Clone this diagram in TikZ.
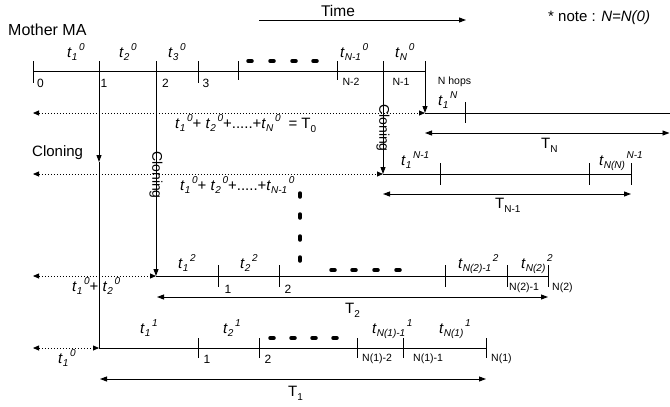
\documentclass[tikz,border=0pt]{standalone}
\usepackage{fontspec}
\setmainfont{Liberation Sans}
\usetikzlibrary{arrows.meta}
\newcommand\subfont{\fontsize{10}{10}\selectfont}
\newcommand\tl[2]{\textit{t}\raisebox{-3.8pt}{\subfont\itshape #1}\raisebox{7pt}{\subfont\itshape\,#2}}
\newcommand\Tsub[1]{T\raisebox{-4pt}{\subfont #1}}
\tikzset{
 rowline/.style={line width=0.9pt},
 dotline/.style={line width=0.8pt, dash pattern=on 1pt off 2pt, {Triangle[length=6pt,width=5pt]}-{Triangle[length=6pt,width=5pt]}},
 spanarrow/.style={line width=0.9pt, {Triangle[length=7pt,width=5pt]}-{Triangle[length=7pt,width=5pt]}},
 downarrow/.style={line width=0.9pt, -{Triangle[length=7pt,width=5pt]}},
 big/.style={font=\fontsize{15}{18}\selectfont, inner sep=0pt},
 tlab/.style={font=\fontsize{15}{17}\selectfont, inner sep=0pt, anchor=base west},
 num/.style={font=\fontsize{12}{14}\selectfont, inner sep=0pt},
 small/.style={font=\fontsize{10.5}{12}\selectfont, inner sep=0pt, anchor=west},
 blob/.style={line width=3.5pt, line cap=round},
 rot/.style={font=\fontsize{14}{16}\selectfont, inner sep=0pt, rotate=-90},
}
\begin{document}
\begin{tikzpicture}[x=1pt,y=-1pt]
\useasboundingbox (0,0) rectangle (670,407);

% header
\node[big, font=\fontsize{15.5}{18}\selectfont] (time) at (338,11) {Time};
\coordinate (timeA) at (259,20);
\coordinate (timeB) at (466,20);
\draw[downarrow] (timeA) -- (timeB);
\node[inner sep=0pt, anchor=west, font=\fontsize{15}{17}\selectfont] (note) at (548,18) {* note : \textit{N=N(0)}};
\node[big, anchor=west, font=\fontsize{16}{18}\selectfont] (mother) at (8,30) {Mother MA};

% main row
\coordinate (m0) at (33,71);
\coordinate (m7) at (425,71);
\draw[rowline] (m0) -- (m7);
\foreach \x/\b in {33/83,198/83,238/80,337/80,99/71,156/71,383/71,425/71}
  \draw[rowline] (\x,61) -- (\x,\b);
\foreach \x in {250,272,294,315}
  \draw[blob] (\x-2,61) -- (\x+2,61);
\node[num] (n0) at (40.5,83) {0};
\node[num] (n1) at (104,83) {1};
\node[num] (n2) at (165.5,83) {2};
\node[num] (n3) at (206,83) {3};
\node[small, anchor=center] (nN2) at (351,82) {N-2};
\node[small, anchor=center] (nN1) at (401,82) {N-1};
\node[small, anchor=center] (nhops) at (454.5,82) {N hops};
\node[tlab] (a1) at (67,57) {\tl{1}{0}};
\node[tlab] (a2) at (119,57) {\tl{2}{0}};
\node[tlab] (a3) at (168,57) {\tl{3}{0}};
\node[tlab] (aN1) at (340,57) {\tl{N-1}{0}};
\node[tlab] (aN) at (395,57) {\tl{N}{0}};

% vertical cloning lines
\coordinate (v1top) at (99,61);
\coordinate (v1mid) at (99,162);
\coordinate (r1s) at (99,348);
\draw[downarrow] (v1top) -- (v1mid);
\draw[rowline] (v1mid) -- (r1s);
\coordinate (v2top) at (156,61);
\coordinate (r2s) at (156,276);
\draw[downarrow] (v2top) -- (r2s);
\coordinate (v3top) at (383,61);
\coordinate (rN1s) at (383,174);
\draw[downarrow] (v3top) -- (rN1s);
\coordinate (v4top) at (425,61);
\coordinate (rNs) at (425,113);
\draw[downarrow] (v4top) -- (rNs);
\node[big, anchor=west] (clon1) at (32,153) {Cloning};
\node[rot] (clon2) at (156,175) {Cloning};
\node[rot] (clon3) at (383,128) {Cloning};

% dotted back-references
\coordinate (dN) at (33,113);
\coordinate (dN1) at (33,174);
\coordinate (d2) at (33,276);
\coordinate (d1) at (33,348);
\draw[dotline] (dN) -- (rNs);
\draw[dotline] (dN1) -- (rN1s);
\draw[dotline] (d2) -- (r2s);
\draw[dotline] (d1) -- (r1s);
\node[tlab] (sum0) at (175,128) {\tl{1}{0}+ \tl{2}{0}+.....+\tl{N}{0}\hspace{8pt}= \Tsub{0}};
\node[tlab] (sum1) at (180,190) {\tl{1}{0}+ \tl{2}{0}+.....+\tl{N-1}{0}};
\node[tlab] (sum2) at (72,291) {\tl{1}{0}+ \tl{2}{0}};
\node[tlab] (sum3) at (58,363) {\tl{1}{0}};
\foreach \y in {195,216,238,259}
  \draw[blob] (300,\y-2) -- (300,\y+2);

% row N
\coordinate (rNe) at (670,113);
\draw[rowline] (rNs) -- (rNe);
\draw[rowline] (465,102) -- (465,123);
\node[tlab] (bN) at (438,105) {\tl{1}{N}};
\coordinate (sNa) at (425,133);
\coordinate (sNb) at (669.5,133);
\draw[spanarrow] (sNa) -- (sNb);
\node[tlab, font=\fontsize{15}{18}\selectfont] (TN) at (541,148) {\Tsub{N}};

% row N-1
\coordinate (rN1e) at (631,174);
\draw[rowline] (rN1s) -- (rN1e);
\foreach \x in {440,589,631}
  \draw[rowline] (\x,163) -- (\x,185);
\node[tlab] (bN1a) at (401,165) {\tl{1}{N-1}};
\node[tlab] (bN1b) at (599,165) {\tl{N(N)}{N-1}};
\coordinate (sN1a) at (383,194);
\coordinate (sN1b) at (631,194);
\draw[spanarrow] (sN1a) -- (sN1b);
\node[tlab, font=\fontsize{15}{18}\selectfont] (TN1) at (495,208) {\Tsub{N-1}};

% row 2
\coordinate (r2e) at (548,276);
\draw[rowline] (r2s) -- (r2e);
\foreach \x in {218,279,445,507,548}
  \draw[rowline] (\x,265) -- (\x,287);
\foreach \x in {333,354,376,398}
  \draw[blob] (\x-2,270) -- (\x+2,270);
\node[tlab] (c1) at (178,268) {\tl{1}{2}};
\node[tlab] (c2) at (240,268) {\tl{2}{2}};
\node[tlab] (c3) at (458,268) {\tl{N(2)-1}{2}};
\node[tlab] (c4) at (521,268) {\tl{N(2)}{2}};
\node[num] (c1n) at (228,289) {1};
\node[num] (c2n) at (288,289) {2};
\node[small] (c3n) at (509,288) {N(2)-1};
\node[small] (c4n) at (552,288) {N(2)};
\coordinate (s2a) at (157,297);
\coordinate (s2b) at (548,297);
\draw[spanarrow] (s2a) -- (s2b);
\node[tlab, font=\fontsize{15}{18}\selectfont] (T2) at (345,313) {\Tsub{2}};

% row 1
\coordinate (r1e) at (486,348);
\draw[rowline] (r1s) -- (r1e);
\foreach \x in {198,259,357,403,486}
  \draw[rowline] (\x,338) -- (\x,358);
\foreach \x in {272,293,314,335}
  \draw[blob] (\x-2,338) -- (\x+2,338);
\node[tlab] (e1) at (140,333) {\tl{1}{1}};
\node[tlab] (e2) at (223,333) {\tl{2}{1}};
\node[tlab] (e3) at (372,333) {\tl{N(1)-1}{1}};
\node[tlab] (e4) at (439,333) {\tl{N(1)}{1}};
\node[num] (e1n) at (207,359) {1};
\node[num] (e2n) at (268,359) {2};
\node[small] (e3n) at (362,359) {N(1)-2};
\node[small] (e4n) at (413,359) {N(1)-1};
\node[small] (e5n) at (491,359) {N(1)};
\coordinate (s1a) at (100,379);
\coordinate (s1b) at (486,379);
\draw[spanarrow] (s1a) -- (s1b);
\node[tlab, font=\fontsize{15}{18}\selectfont] (T1) at (288,396) {\Tsub{1}};
\end{tikzpicture}
\end{document}
